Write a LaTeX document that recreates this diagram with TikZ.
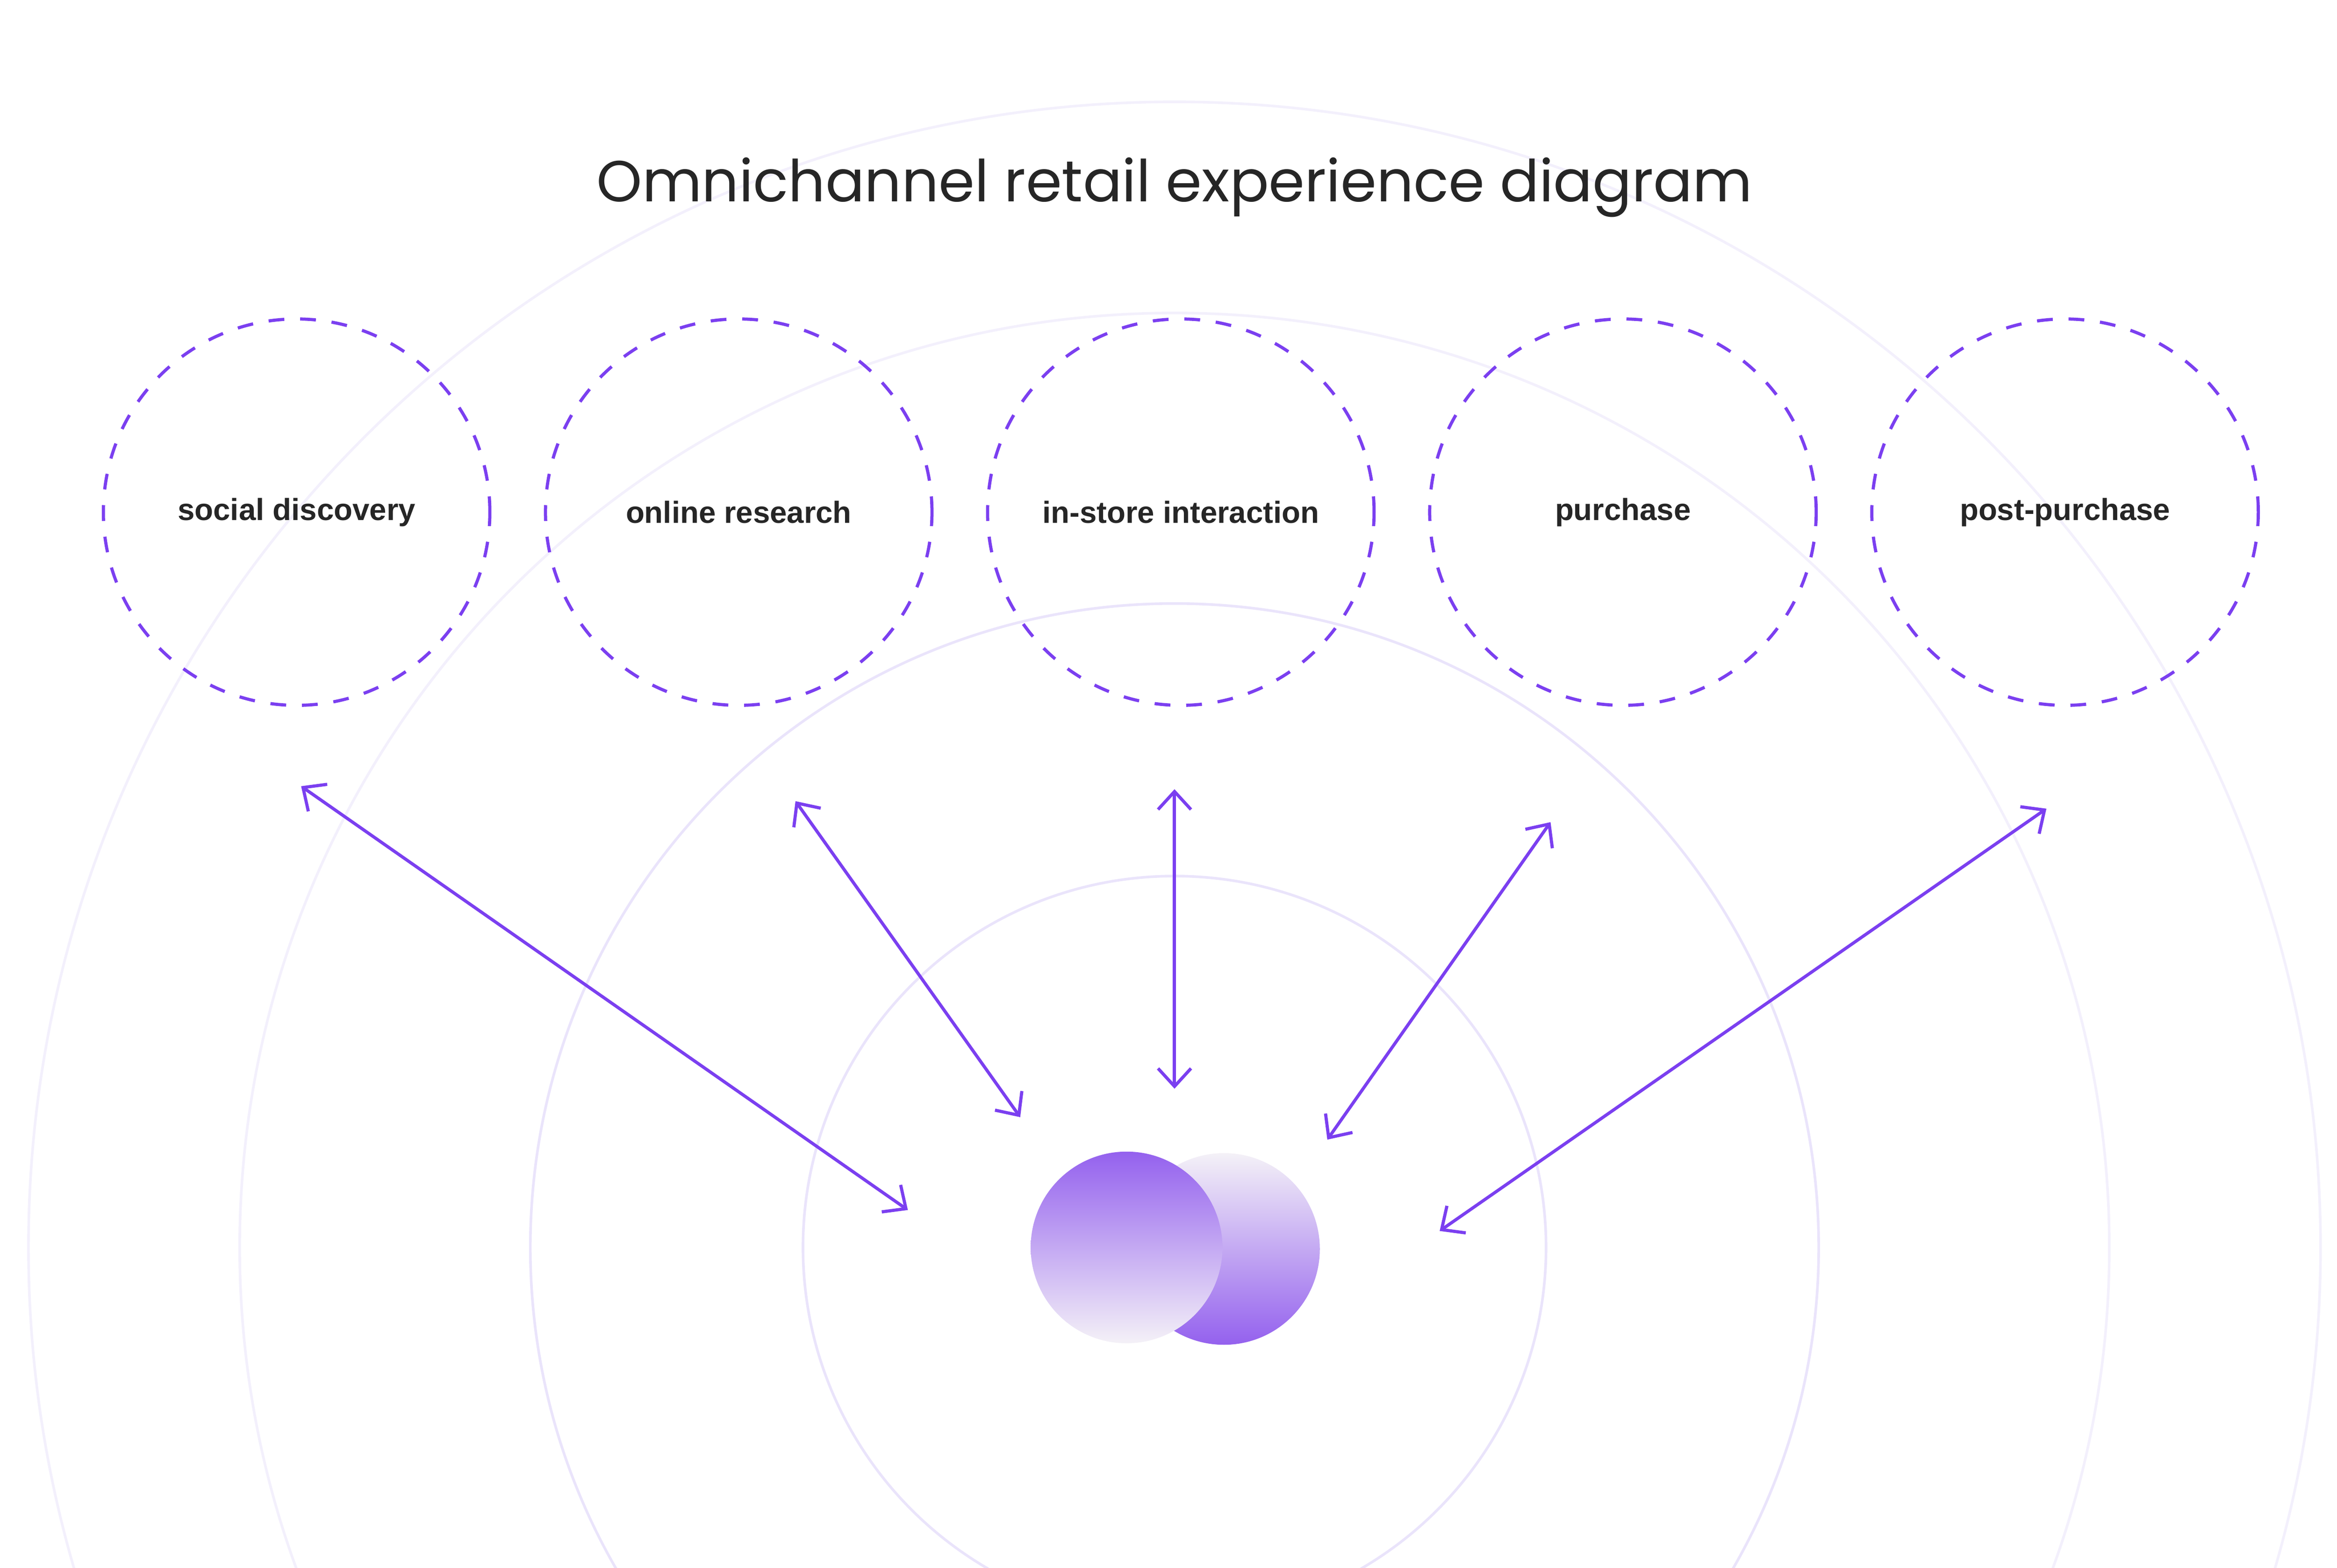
\documentclass[tikz,border=0pt]{standalone}
\usepackage{fontspec}
\setmainfont{Liberation Sans}
\newfontfamily\titlefont{Poppins}
\usetikzlibrary{positioning}
\usetikzlibrary{arrows.meta}
\definecolor{violet}{HTML}{7B3FF0}
\definecolor{ringA}{HTML}{EAE4FB}
\definecolor{ringB}{HTML}{F3F0FC}
\definecolor{logoA}{HTML}{9461EE}
\definecolor{logoB}{HTML}{F4F1F7}
\tikzset{
  stage/.style={circle,draw=violet,dashed,line width=0.6pt,minimum size=2.58cm,
    font=\bfseries\fontsize{5.8}{7}\selectfont,text=black!85},
  link/.style={{Straight Barb[length=1.2mm,width=2.2mm]}-{Straight Barb[length=1.2mm,width=2.2mm]},
    draw=violet,line width=0.6pt}
}
\begin{document}
\begin{tikzpicture}
				\useasboundingbox (0,0) rectangle (15.6,10.47);
				\begin{scope}
				\clip (0,0) rectangle (15.6,10.47);
				\draw[ringA,line width=0.5pt] (7.84,2.14) circle (2.48);
				\draw[ringA,line width=0.5pt] (7.84,2.14) circle (4.30);
				\draw[ringB,line width=0.5pt] (7.84,2.14) circle (6.24);
				\draw[ringB,line width=0.5pt] (7.84,2.14) circle (7.65);
				\end{scope}
				\node[font=\titlefont\fontsize{11}{13}\selectfont,text=black!85](title) at (7.84,9.22) {Omnichannel retail experience diagram};

				\node[stage](social) at (1.98,7.05) {social discovery};
				\node[stage,right=.35 of social](online) {online research};
				\node[stage,right=.35 of online](store) {in-store interaction};
				\node[stage,right=.35 of store](buy) {purchase};
				\node[stage,right=.35 of buy](post) {post-purchase};

				\shade[top color=logoB,bottom color=logoA] (8.17,2.13) circle (0.64);
				\shade[top color=logoA,bottom color=logoB] (7.52,2.14) circle (0.64);
				\coordinate (logo) at (7.84,2.14);

				\coordinate (s1) at (2.01,5.22); \coordinate (e1) at (6.06,2.39);
				\coordinate (s2) at (5.31,5.12); \coordinate (e2) at (6.81,3.01);
				\coordinate (s3) at (7.84,5.20); \coordinate (e3) at (7.84,3.20);
				\coordinate (s4) at (10.35,4.98); \coordinate (e4) at (8.86,2.86);
				\coordinate (s5) at (13.66,5.07); \coordinate (e5) at (9.61,2.25);

				\draw[link] (s1) to (e1);
				\draw[link] (s2) to (e2);
				\draw[link] (s3) to (e3);
				\draw[link] (s4) to (e4);
				\draw[link] (s5) to (e5);
\end{tikzpicture}
\end{document}
